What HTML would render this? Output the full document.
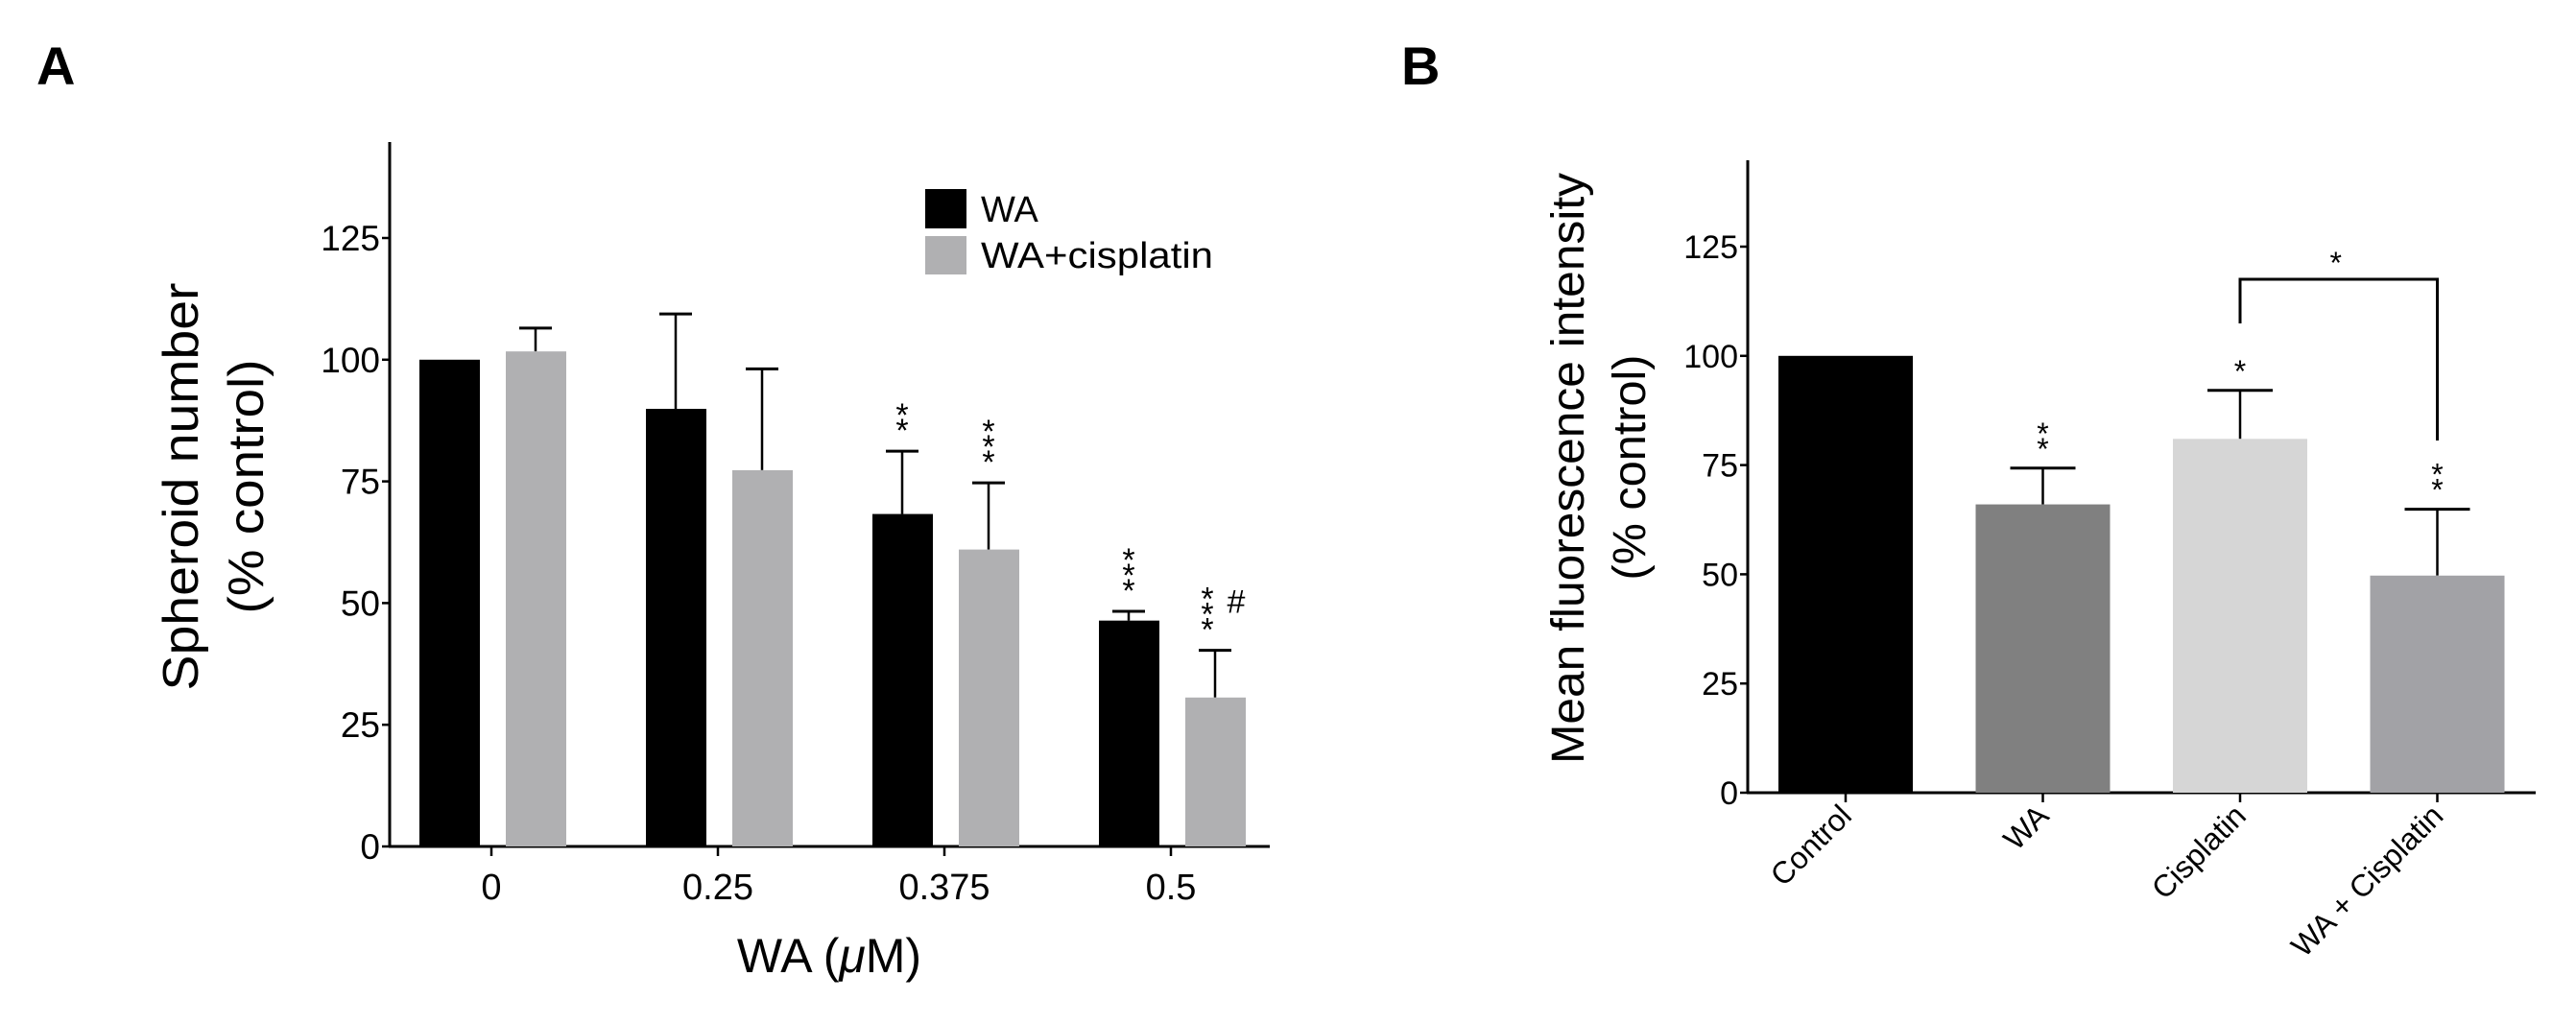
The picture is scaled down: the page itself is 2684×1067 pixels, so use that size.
<!DOCTYPE html>
<html><head><meta charset="utf-8"><style>
html,body{margin:0;padding:0;background:#fff;}
svg{display:block;font-family:"Liberation Sans",Arial,sans-serif;}
</style></head><body>
<svg id="fig" width="2684" height="1067" viewBox="0 0 2684 1067" xmlns="http://www.w3.org/2000/svg">
<rect width="2684" height="1067" fill="#fff"/>
<text x="38" y="88" font-size="56" font-weight="bold">A</text>
<text x="1460" y="88" font-size="56" font-weight="bold">B</text>
<g id="pa"></g>
<g id="pb"></g>
</svg>
<script>
const NS='http://www.w3.org/2000/svg';
// Panel A data
const catsA=['0','0.25','0.375','0.5'];
const waVals=[100,89.9,68.3,46.4];
const waErr=[0,19.5,12.9,1.9];
const cisVals=[101.7,77.3,61,30.6];
const cisErr=[4.8,20.8,13.7,9.7];
const waStars=[0,0,2,3];
const cisStars=[0,0,3,3];
const cisHash=[false,false,false,true];
const ticksA=[0,25,50,75,100,125];
// Panel B data
const catsB=['Control','WA','Cisplatin','WA + Cisplatin'];
const valsB=[100,66,81,49.7];
const errB=[0,8.3,11.1,15.2];
const starsB=[0,2,1,2];
const colorsB=['#000000','#808080','#d6d6d6','#a2a2a6'];
const ticksB=[0,25,50,75,100,125];

function mk(parent,tag,attrs,txt){const e=document.createElementNS(NS,tag);for(const k in attrs)e.setAttribute(k,attrs[k]);if(txt!==undefined)e.textContent=txt;parent.appendChild(e);return e;}

// Panel A
(function(){
 const g=document.getElementById('pa');
 const x0=406,y0=882,yTop=148,xEnd=1323;
 const yA=v=>y0-v*5.072;
 const xA=i=>512+i*236;
 let e;
 e=mk(g,'line',{x1:x0,y1:yTop,x2:x0,y2:y0+1,stroke:'#000','stroke-width':3});
 
 e=mk(g,'line',{x1:x0-1,y1:y0,x2:xEnd,y2:y0,stroke:'#000','stroke-width':3});
 
 ticksA.forEach(t=>{
  e=mk(g,'line',{x1:x0-8,y1:yA(t),x2:x0,y2:yA(t),stroke:'#000','stroke-width':2.5});
  
  e=mk(g,'text',{x:x0-10,y:yA(t)+13,'font-size':37,'text-anchor':'end'},String(t));
  
 });
 catsA.forEach((c,i)=>{
  const cx=xA(i);
  e=mk(g,'line',{x1:cx,y1:y0,x2:cx,y2:y0+10,stroke:'#000','stroke-width':2.5});
  
  e=mk(g,'text',{x:cx,y:937,'font-size':38,'text-anchor':'middle'},c);
  
  [[waVals,waErr,'#000','wa',-44,waStars],[cisVals,cisErr,'#b0b0b2','cis',46,cisStars]].forEach(s=>{
   const v=s[0][i],er=s[1][i],bx=cx+s[4];
   if(er>0){
    e=mk(g,'line',{x1:bx,y1:yA(v+er),x2:bx,y2:yA(v),stroke:'#000','stroke-width':2.5});
    
    e=mk(g,'line',{x1:bx-17,y1:yA(v+er),x2:bx+17,y2:yA(v+er),stroke:'#000','stroke-width':3});
    
   }
   e=mk(g,'rect',{x:bx-31,y:yA(v),width:63,height:y0-yA(v),fill:s[2]});
   
   const top=yA(v+er);
   const hasHash=(s[3]==='cis'&&cisHash[i]);
   const sx=hasHash?bx-8:bx;
   for(let k=0;k<s[5][i];k++){
    e=mk(g,'text',{x:sx,y:top-23-k*16+13,'font-size':34,'text-anchor':'middle'},'*');
    
   }
   if(hasHash){
    e=mk(g,'text',{x:bx+22,y:top-39,'font-size':34,'text-anchor':'middle'},'#');
    
   }
  });
 });
 e=mk(g,'text',{x:864,y:1013,'font-size':50,'text-anchor':'middle'});
 e.innerHTML='WA (<tspan font-style="italic">μ</tspan>M)';
 
 e=mk(g,'text',{x:0,y:0,'font-size':52,'text-anchor':'middle',transform:'translate(206,507) rotate(-90)',textLength:425,lengthAdjust:'spacingAndGlyphs'},'Spheroid number');
 
 e=mk(g,'text',{x:0,y:0,'font-size':52,'text-anchor':'middle',transform:'translate(274,507) rotate(-90)',textLength:265,lengthAdjust:'spacingAndGlyphs'},'(% control)');
 
 e=mk(g,'rect',{x:964,y:197,width:43,height:41,fill:'#000'});
 
 e=mk(g,'rect',{x:964,y:246,width:43,height:40,fill:'#b0b0b2'});
 
 e=mk(g,'text',{x:1022,y:231,'font-size':38},'WA');
 
 e=mk(g,'text',{x:1022,y:279,'font-size':38,textLength:242,lengthAdjust:'spacingAndGlyphs'},'WA+cisplatin');
 
})();

// Panel B
(function(){
 const g=document.getElementById('pb');
 const x0=1821,y0=826,yTop=167,xEnd=2642;
 const yB=v=>y0-v*4.552;
 const xB=i=>1923+i*205.5;
 let e;
 e=mk(g,'line',{x1:x0,y1:yTop,x2:x0,y2:y0+1,stroke:'#000','stroke-width':3});
 
 e=mk(g,'line',{x1:x0-1,y1:y0,x2:xEnd,y2:y0,stroke:'#000','stroke-width':3});
 
 ticksB.forEach(t=>{
  e=mk(g,'line',{x1:x0-8,y1:yB(t),x2:x0,y2:yB(t),stroke:'#000','stroke-width':2.5});
  
  e=mk(g,'text',{x:x0-10,y:yB(t)+12,'font-size':34,'text-anchor':'end'},String(t));
  
 });
 catsB.forEach((c,i)=>{
  const cx=xB(i),v=valsB[i],er=errB[i];
  e=mk(g,'line',{x1:cx,y1:y0,x2:cx,y2:y0+10,stroke:'#000','stroke-width':2.5});
  
  if(er>0){
   e=mk(g,'line',{x1:cx,y1:yB(v+er),x2:cx,y2:yB(v),stroke:'#000','stroke-width':2.5});
   
   e=mk(g,'line',{x1:cx-34,y1:yB(v+er),x2:cx+34,y2:yB(v+er),stroke:'#000','stroke-width':3});
   
  }
  e=mk(g,'rect',{x:cx-70,y:yB(v),width:140,height:y0-yB(v),fill:colorsB[i]});
  
  const top=yB(v+er);
  for(let k=0;k<starsB[i];k++){
   e=mk(g,'text',{x:cx,y:top-22-k*16+13,'font-size':32,'text-anchor':'middle'},'*');
   
  }
  e=mk(g,'text',{x:0,y:0,'font-size':32,'text-anchor':'end',transform:'translate('+(cx+8)+','+(y0+26)+') rotate(-45)'},c);
  
 });
 const bx1=xB(2),bx2=xB(3),by=291;
 e=mk(g,'polyline',{points:bx1+','+337+' '+bx1+','+by+' '+bx2+','+by+' '+bx2+','+459,fill:'none',stroke:'#000','stroke-width':3});
 
 e=mk(g,'text',{x:(bx1+bx2)/2-3,y:285,'font-size':32,'text-anchor':'middle'},'*');
 
 e=mk(g,'text',{x:0,y:0,'font-size':48,'text-anchor':'middle',transform:'translate(1650,488) rotate(-90)',textLength:616,lengthAdjust:'spacingAndGlyphs'},'Mean fluorescence intensity');
 
 e=mk(g,'text',{x:0,y:0,'font-size':48,'text-anchor':'middle',transform:'translate(1714,487) rotate(-90)',textLength:235,lengthAdjust:'spacingAndGlyphs'},'(% control)');
 
})();
</script>
</body></html>
